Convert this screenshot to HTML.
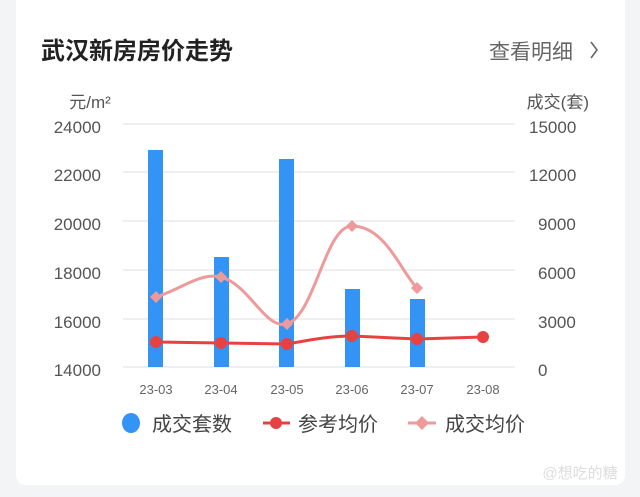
<!DOCTYPE html><html><head><meta charset="utf-8"><style>
body{margin:0;width:640px;height:497px;background:#f3f4f5;font-family:"Liberation Sans","Noto Sans CJK SC",sans-serif;overflow:hidden}
.card{position:absolute;left:16px;top:-10px;width:609px;height:495px;background:#fff;border-radius:10px}
</style></head><body><div class="card"></div>
<svg width="640" height="497" style="position:absolute;left:0;top:0" font-family="Liberation Sans, Noto Sans CJK SC, sans-serif">
<text x="41" y="59" font-size="24" font-weight="bold" fill="#222">武汉新房房价走势</text>
<text x="489" y="59" font-size="21" fill="#666">查看明细</text>
<path d="M591 42 L597 50 L591 58" stroke="#666" stroke-width="1.6" fill="none"/>
<text x="90" y="108" font-size="17" fill="#555" text-anchor="middle">元/m²</text>
<text x="589" y="108" font-size="17" fill="#555" text-anchor="end">成交(套)</text>
<g stroke="#e3e5e8" stroke-width="1.2">
<line x1="123" x2="515" y1="124" y2="124"/><line x1="123" x2="515" y1="172" y2="172"/><line x1="123" x2="515" y1="221" y2="221"/><line x1="123" x2="515" y1="270" y2="270"/><line x1="123" x2="515" y1="319" y2="319"/><line x1="123" x2="515" y1="367" y2="367"/></g>
<g font-size="17" fill="#555" text-anchor="end">
<text x="101" y="133">24000</text><text x="101" y="181">22000</text><text x="101" y="230">20000</text><text x="101" y="279">18000</text><text x="101" y="328">16000</text><text x="101" y="376">14000</text></g>
<g font-size="17" fill="#555" text-anchor="start">
<text x="529" y="133">15000</text><text x="529" y="181">12000</text><text x="538" y="230">9000</text><text x="538" y="279">6000</text><text x="538" y="328">3000</text><text x="538" y="376">0</text></g>
<g fill="#3394f5">
<rect x="148" y="150" width="15" height="217"/><rect x="214" y="257" width="15" height="110"/><rect x="279" y="159" width="15" height="208"/><rect x="345" y="289" width="15" height="78"/><rect x="410" y="299" width="15" height="68"/></g>
<g font-size="13" fill="#666" text-anchor="middle">
<text x="156" y="394">23-03</text><text x="221" y="394">23-04</text><text x="287" y="394">23-05</text><text x="352" y="394">23-06</text><text x="417" y="394">23-07</text><text x="483" y="394">23-08</text></g>
<path d="M156 297 C180 290,200 272,221 277 C250 285,265 330,287 324 C315 315,325 226,352 226 C385 226,400 270,417 288" stroke="#ee9a9a" stroke-width="3" fill="none"/>
<g fill="#ee9a9a"><path d="M156 291l6 6-6 6-6-6z"/><path d="M221 271l6 6-6 6-6-6z"/><path d="M287 318l6 6-6 6-6-6z"/><path d="M352 220l6 6-6 6-6-6z"/><path d="M417 282l6 6-6 6-6-6z"/></g>
<path d="M156 342 L221 343 L287 344 C310 340,330 336,352 336 L417 339 L483 337" stroke="#e84141" stroke-width="3" fill="none"/>
<g fill="#e84141"><circle cx="156" cy="342" r="6"/><circle cx="221" cy="343" r="6"/><circle cx="287" cy="344" r="6"/><circle cx="352" cy="336" r="6"/><circle cx="417" cy="339" r="6"/><circle cx="483" cy="337" r="6"/></g>
<ellipse cx="131" cy="423" rx="9" ry="10" fill="#3394f5"/>
<text x="152" y="431" font-size="20" fill="#444">成交套数</text>
<line x1="263" x2="290" y1="423" y2="423" stroke="#e84141" stroke-width="3"/><circle cx="276" cy="423" r="6" fill="#e84141"/>
<text x="298" y="431" font-size="20" fill="#444">参考均价</text>
<line x1="408" x2="436" y1="423" y2="423" stroke="#ee9a9a" stroke-width="3"/><path d="M422 416l7 7-7 7-7-7z" fill="#ee9a9a"/>
<text x="445" y="431" font-size="20" fill="#444">成交均价</text>
<text x="580" y="478" font-size="15" fill="#ddd" text-anchor="middle">@想吃的糖</text>
</svg></body></html>
